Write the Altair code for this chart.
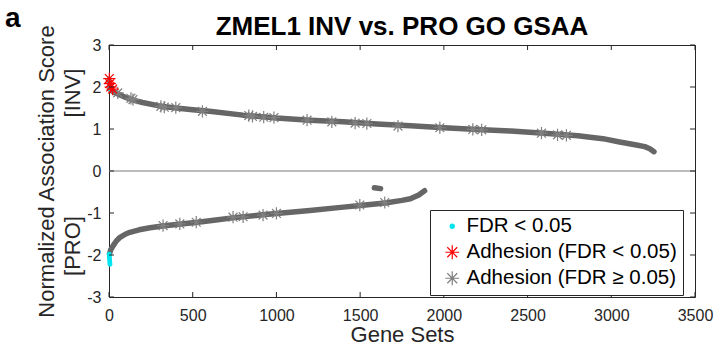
import altair as alt
import pandas as pd

# ---------------- data ----------------
# ranked gene-set scores, INV side (upper curve)
inv_x = [5, 20, 50, 100, 150, 200, 300, 400, 500, 600, 800, 1000, 1200, 1400, 1600,
         1800, 2000, 2200, 2400, 2600, 2800, 2950, 3050, 3150, 3200, 3230, 3255]
inv_y = [1.95, 1.90, 1.84, 1.75, 1.68, 1.63, 1.55, 1.50, 1.46, 1.42, 1.33, 1.26, 1.21, 1.17, 1.12,
         1.08, 1.03, 0.99, 0.95, 0.90, 0.84, 0.77, 0.69, 0.62, 0.58, 0.53, 0.46]
# ranked gene-set scores, PRO side (lower curve)
pro_x = [3, 10, 26, 45, 66, 100, 125, 180, 245, 320, 430, 530, 650, 750, 900, 1000,
         1200, 1400, 1500, 1650, 1750, 1800, 1850, 1885]
pro_y = [-1.97, -1.88, -1.77, -1.66, -1.58, -1.50, -1.46, -1.40, -1.35, -1.31, -1.26, -1.22, -1.16,
         -1.11, -1.05, -1.01, -0.94, -0.86, -0.82, -0.76, -0.70, -0.66, -0.57, -0.47]
# small isolated group of PRO gene sets
seg_x = [1585, 1622]
seg_y = [-0.40, -0.42]

# FDR < 0.05 gene sets
fdr_x = [1, 2, 3, 4, 5, 6, 1, 2, 3, 4, 5, 6]
fdr_y = [2.20, 2.15, 2.10, 2.05, 2.00, 1.96, -1.98, -2.03, -2.08, -2.13, -2.18, -2.22]
# adhesion gene sets with FDR < 0.05
adh_sig_x = [2, 5, 10, 22]
adh_sig_y = [2.20, 2.08, 2.00, 1.95]
# adhesion gene sets with FDR >= 0.05
adh_ns_x = [52, 131, 143, 310, 330, 399, 558, 835, 857, 924, 985, 1183, 1331, 1470, 1540,
            1726, 1976, 2173, 2226, 2583, 2679, 2732,
            323, 423, 521, 741, 801, 920, 1000, 1498, 1647]
adh_ns_y = [1.86, 1.73, 1.70, 1.54, 1.52, 1.51, 1.42, 1.32, 1.30, 1.28, 1.27, 1.21, 1.17, 1.14, 1.13,
            1.07, 1.03, 0.99, 0.98, 0.90, 0.86, 0.85,
            -1.30, -1.26, -1.22, -1.10, -1.09, -1.05, -1.01, -0.81, -0.75]

categories = ["FDR < 0.05", "Adhesion (FDR < 0.05)", "Adhesion (FDR \u2265 0.05)"]
cat_colors = ["#00e5ef", "#ff0000", "#808080"]

x_ticks = [0, 500, 1000, 1500, 2000, 2500, 3000, 3500]
y_ticks = [-3, -2, -1, 0, 1, 2, 3]

# ---------------- tables ----------------
curves = pd.DataFrame({
    "x": inv_x + pro_x + seg_x,
    "y": inv_y + pro_y + seg_y,
    "series": ["inv"] * len(inv_x) + ["pro"] * len(pro_x) + ["seg"] * len(seg_x),
})
markers = pd.DataFrame({
    "x": fdr_x + adh_ns_x + adh_sig_x,
    "y": fdr_y + adh_ns_y + adh_sig_y,
    "cat": [categories[0]] * len(fdr_x) + [categories[2]] * len(adh_ns_x) + [categories[1]] * len(adh_sig_x),
})
xt = pd.DataFrame({"v": x_ticks})
yt = pd.DataFrame({"v": y_ticks})
zero = pd.DataFrame({"v": [0]})

W, H = 586, 252
FONT = "Liberation Sans"
DARK = "#262626"

X_SCALE = alt.Scale(domain=[0, 3500], nice=False, zero=False)
Y_SCALE = alt.Scale(domain=[-3, 3], nice=False, zero=False)
x_axis = alt.Axis(values=x_ticks, format="d", title="Gene Sets", ticks=False, tickSize=0,
                  domain=False, grid=False, labelFlush=False, labelFont=FONT, labelFontSize=16,
                  labelColor=DARK, labelPadding=10, titleFont=FONT, titleFontSize=22,
                  titleFontWeight="normal", titleColor=DARK, titleBaseline="alphabetic", titleY=44)
y_axis = alt.Axis(values=y_ticks, title="Normalized Association Score", ticks=False, tickSize=0,
                  domain=False, grid=False, labelFlush=False, labelFont=FONT, labelFontSize=16,
                  labelColor=DARK, labelPadding=8, labelExpr="'' + datum.value",
                  titleFont=FONT, titleFontSize=22, titleFontWeight="normal", titleColor=DARK,
                  titleAngle=270, titleAlign="center", titleBaseline="middle",
                  titleX=-63, titleY=H / 2)


def xq(field):
    return alt.X(field, type="quantitative", scale=X_SCALE, axis=x_axis)


def yq(field):
    return alt.Y(field, type="quantitative", scale=Y_SCALE, axis=y_axis)


zero_line = alt.Chart(zero).mark_rule(color="#a6a6a6", strokeWidth=1.3).encode(y=yq("v"))

curve_layer = alt.Chart(curves).mark_line(color="#666666", strokeWidth=5.5, strokeCap="round",
                                          strokeJoin="round").encode(
    x=xq("x"), y=yq("y"), detail="series:N")

AST = "M0,-1L0,1M-1,0L1,0M-0.72,-0.72L0.72,0.72M-0.72,0.72L0.72,-0.72"
DOT = "M-0.3,0A0.3,0.3 0 1,0 0.3,0A0.3,0.3 0 1,0 -0.3,0Z"

legend = alt.Legend(title=None, orient="none", legendX=321, legendY=165, padding=6,
                    rowPadding=5, symbolOffset=6, labelOffset=4, labelFont=FONT,
                    labelFontSize=20.5, labelColor="#000000", fillColor="#ffffff",
                    strokeColor=DARK, symbolStrokeWidth=1.2, symbolSize=190,
                    labelLimit=400)

marker_layer = alt.Chart(markers).mark_point(filled=False, size=150, strokeWidth=1.2,
                                            opacity=1).encode(
    x=xq("x"), y=yq("y"),
    shape=alt.Shape("cat:N", scale=alt.Scale(domain=categories, range=[DOT, AST, AST]),
                    legend=legend),
    stroke=alt.Stroke("cat:N", scale=alt.Scale(domain=categories, range=cat_colors),
                      legend=legend),
    fill=alt.Fill("cat:N", scale=alt.Scale(domain=categories,
                                           range=[cat_colors[0], "transparent", "transparent"]),
                  legend=legend),
)

tick_style = dict(color=DARK, strokeWidth=1)
xt_bottom = alt.Chart(xt).mark_rule(**tick_style).encode(x=xq("v"), y=alt.value(H), y2=alt.value(H - 5))
xt_top = alt.Chart(xt).mark_rule(**tick_style).encode(x=xq("v"), y=alt.value(0), y2=alt.value(5))
yt_left = alt.Chart(yt).mark_rule(**tick_style).encode(y=yq("v"), x=alt.value(0), x2=alt.value(5))
yt_right = alt.Chart(yt).mark_rule(**tick_style).encode(y=yq("v"), x=alt.value(W - 5), x2=alt.value(W))

title_txt = alt.Chart(pd.DataFrame({"t": ["ZMEL1 INV vs. PRO GO GSAA"]})).mark_text(
    font=FONT, fontSize=26, fontWeight="bold", color="#000000", align="center",
    baseline="alphabetic").encode(text="t:N", x=alt.value(W / 2), y=alt.value(-10))
panel_txt = alt.Chart(pd.DataFrame({"t": ["a"]})).mark_text(
    font=FONT, fontSize=28, fontWeight="bold", color="#000000", align="left",
    baseline="alphabetic").encode(text="t:N", x=alt.value(-104), y=alt.value(-18))
inv_txt = alt.Chart(pd.DataFrame({"t": ["[INV]"]})).mark_text(
    font=FONT, fontSize=22, color=DARK, align="center", baseline="middle", angle=270).encode(
    text="t:N", x=alt.value(-36), y=alt.value(48))
pro_txt = alt.Chart(pd.DataFrame({"t": ["[PRO]"]})).mark_text(
    font=FONT, fontSize=22, color=DARK, align="center", baseline="middle", angle=270).encode(
    text="t:N", x=alt.value(-36), y=alt.value(201))

chart = alt.layer(
    zero_line, curve_layer, marker_layer, xt_bottom, xt_top, yt_left, yt_right,
    title_txt, panel_txt, inv_txt, pro_txt,
).properties(
    width=W, height=H,
    autosize=alt.AutoSizeParams(type="none"),
    padding={"left": 109, "top": 45, "right": 22, "bottom": 59},
    background="#ffffff",
).configure_view(stroke=DARK, strokeWidth=1)

chart.save("out.html", embed_options={"renderer": "svg", "actions": False})
